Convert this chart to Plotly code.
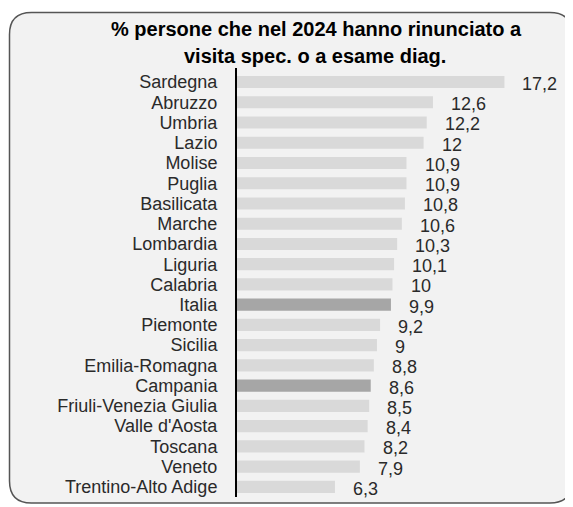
import plotly.graph_objects as go

regions = ["Sardegna", "Abruzzo", "Umbria", "Lazio", "Molise", "Puglia", "Basilicata",
           "Marche", "Lombardia", "Liguria", "Calabria", "Italia", "Piemonte", "Sicilia",
           "Emilia-Romagna", "Campania", "Friuli-Venezia Giulia", "Valle d'Aosta",
           "Toscana", "Veneto", "Trentino-Alto Adige"]
values = [17.2, 12.6, 12.2, 12, 10.9, 10.9, 10.8, 10.6, 10.3, 10.1, 10, 9.9, 9.2, 9,
          8.8, 8.6, 8.5, 8.4, 8.2, 7.9, 6.3]
highlight = ["Italia", "Campania"]
value_labels = [str(v).replace(".", ",") for v in values]

title_lines = ["% persone che nel 2024 hanno rinunciato a", "visita spec. o a esame diag."]

OFF = 8  # page body margin in the browser
W, H = 573 - OFF, 507 - OFF
ML, MR, MT, MB = 237 - OFF, 1, 68 - OFF, 10
PW, PH = W - ML - MR, H - MT - MB

def px(x):
    return (x - OFF - ML) / PW

def py(y):
    return (H - MB - (y - OFF)) / PH

FONT = "Liberation Sans, Arial, sans-serif"
colors = ["#a6a6a6" if r in highlight else "#d9d9d9" for r in regions]

fig = go.Figure()
fig.add_trace(go.Bar(
    x=values, y=regions, orientation="h",
    marker=dict(color=colors, line=dict(width=0)),
    width=0.6, hoverinfo="skip",
))

for r, v, lab in zip(regions, values, value_labels):
    fig.add_annotation(x=v, y=r, xref="x", yref="y", text=lab, showarrow=False,
                       xanchor="left", yanchor="middle", xshift=16, yshift=-2,
                       font=dict(family=FONT, size=18, color="#2a2a2a"))

# title lines
fig.add_annotation(x=px(316), y=py(29), xref="paper", yref="paper", text="<b>%s</b>" % title_lines[0],
                   showarrow=False, xanchor="center", yanchor="middle",
                   font=dict(family=FONT, size=20, color="#000000"))
fig.add_annotation(x=px(315), y=py(56), xref="paper", yref="paper", text="<b>%s</b>" % title_lines[1],
                   showarrow=False, xanchor="center", yanchor="middle",
                   font=dict(family=FONT, size=20, color="#000000"))

# rounded panel background
x0, y0, x1, y1, rr = 9.5, 12.5, 572, 503, 22
path = (f"M {px(x0+rr)},{py(y0)} L {px(x1-rr)},{py(y0)} Q {px(x1)},{py(y0)} {px(x1)},{py(y0+rr)} "
        f"L {px(x1)},{py(y1-rr)} Q {px(x1)},{py(y1)} {px(x1-rr)},{py(y1)} "
        f"L {px(x0+rr)},{py(y1)} Q {px(x0)},{py(y1)} {px(x0)},{py(y1-rr)} "
        f"L {px(x0)},{py(y0+rr)} Q {px(x0)},{py(y0)} {px(x0+rr)},{py(y0)} Z")
fig.add_shape(type="path", path=path, xref="paper", yref="paper",
              fillcolor="#f2f2f2", line=dict(color="#555555", width=1.5), layer="below")

fig.update_layout(
    width=W, height=H,
    margin=dict(l=ML, r=MR, t=MT, b=MB, pad=0, autoexpand=False),
    paper_bgcolor="white", plot_bgcolor="rgba(0,0,0,0)",
    showlegend=False, bargap=0.4,
    font=dict(family=FONT, color="#2a2a2a"),
)
fig.update_xaxes(range=[0, PW / 15.55], visible=False, fixedrange=True)
fig.update_yaxes(autorange="reversed", showline=True, linecolor="#000000", linewidth=2,
                 showgrid=False, zeroline=False, ticks="outside", ticklen=14,
                 tickmode="array", tickvals=regions, ticktext=regions,
                 tickcolor="rgba(0,0,0,0)", tickfont=dict(family=FONT, size=18, color="#2a2a2a"),
                 fixedrange=True)

fig.write_html("out.html")
